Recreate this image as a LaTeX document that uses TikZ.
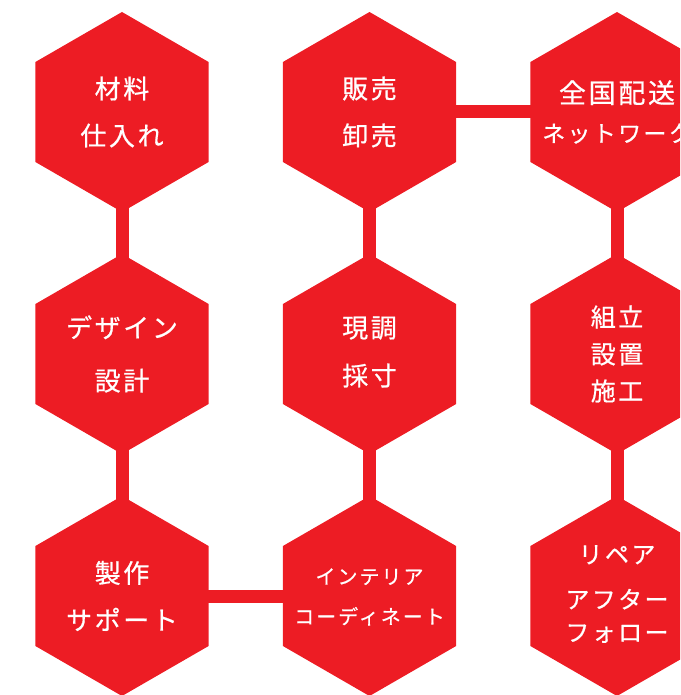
\documentclass[tikz,border=0pt]{standalone}
\usepackage{fontspec}
\newfontfamily\jp[LetterSpace=10,FakeBold=0.6]{Noto Sans CJK JP}
\usetikzlibrary{shapes.geometric,backgrounds}
\definecolor{hexred}{HTML}{ED1C24}
\begin{document}
\begin{tikzpicture}[x=1pt,y=-1pt,
  hexa/.style={regular polygon, regular polygon sides=6, shape border rotate=30,
    minimum size=200pt, inner sep=0pt, fill=hexred, draw=none},
  txt/.style={text=white, align=center, inner sep=0pt, font=\jp\fontsize{26}{47}\selectfont},
  link/.style={draw=hexred, line width=13pt}]
\useasboundingbox (0,0) rectangle (680,695);
\clip (0,0) rectangle (680,695);
% hexagons
\node[hexa] (h11) at (122,112) {};
\node[hexa] (h12) at (122,354) {};
\node[hexa] (h13) at (122,596) {};
\node[hexa] (h21) at (369.5,112) {};
\node[hexa] (h22) at (369.5,354) {};
\node[hexa] (h23) at (369.5,596) {};
\node[hexa] (h31) at (617,112) {};
\node[hexa] (h32) at (617,354) {};
\node[hexa] (h33) at (617,596) {};
% texts
\node[txt] (t11) at (h11.center) {材料\\仕入れ};
\node[txt, font=\jp\fontsize{26}{53}\selectfont] (t12) at (h12.center) {デザイン\\設計};
\node[txt] (t13) at (h13.center) {製作\\サポート};
\node[txt] (t21) at (h21.center) {販売\\卸売};
\node[txt, font=\jp\fontsize{26}{48}\selectfont] (t22) at ([yshift=2pt]h22.center) {現調\\採寸};
\node[txt, font=\jp\fontsize{20}{40}\selectfont] (t23) at ([yshift=-1pt]h23.center) {インテリア\\コーディネート};
\node[txt, font=\jp\fontsize{26}{39}\selectfont] (t31) at (h31.center) {{\fontsize{27}{39}\selectfont 全国配送}\\{\fontsize{23}{39}\selectfont ネットワーク}};
\node[txt, font=\jp\fontsize{25}{37}\selectfont] (t32) at (h32.center) {組立\\設置\\施工};
\node[txt, font=\jp\fontsize{24}{33}\selectfont] (t33) at ([yshift=2pt]h33.center) {リペア\\[12pt]アフター\\フォロー};
% connectors
\begin{scope}[on background layer]
\draw[link] (h11.center) -- (h12.center);
\draw[link] (h12.center) -- (h13.center);
\draw[link] (h21.center) -- (h22.center);
\draw[link] (h22.center) -- (h23.center);
\draw[link] (h31.center) -- (h32.center);
\draw[link] (h32.center) -- (h33.center);
\draw[link] (h21.center) -- (h31.center);
\draw[link] (h13.center) -- (h23.center);
\end{scope}
\end{tikzpicture}
\end{document}
